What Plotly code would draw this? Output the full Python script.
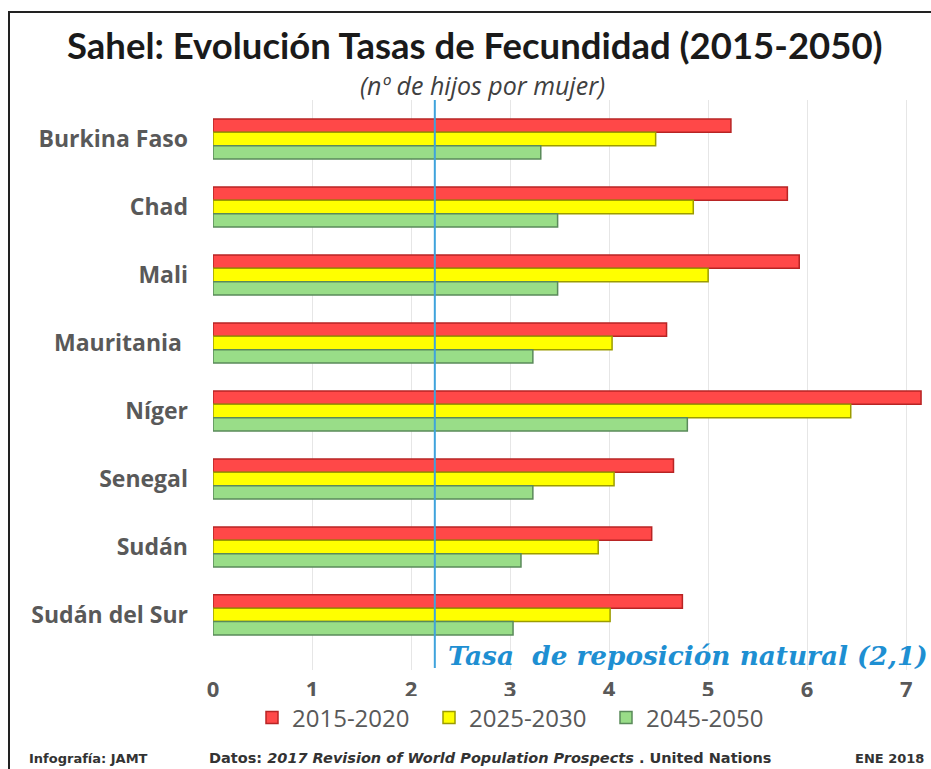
import plotly.graph_objects as go

countries = ["Burkina Faso", "Chad", "Mali", "Mauritania ", "Níger", "Senegal", "Sudán", "Sudán del Sur"]
tfr_2015_2020 = [5.23, 5.80, 5.92, 4.58, 7.15, 4.65, 4.43, 4.74]
tfr_2025_2030 = [4.47, 4.85, 5.00, 4.03, 6.44, 4.05, 3.89, 4.01]
tfr_2045_2050 = [3.31, 3.48, 3.48, 3.23, 4.79, 3.23, 3.11, 3.03]
series_names = ["2015-2020", "2025-2030", "2045-2050"]
x_ticks = [0, 1, 2, 3, 4, 5, 6, 7]
replacement_line_x = 2.24

fills = ["#ff4848", "#ffff00", "#99dd88"]
edges = ["#b82424", "#9c9c00", "#5a8a5a"]

W, H = 931, 769
L, R, T, B = 213, 5, 100, 99  # plot area: x 213..926, y 100..670
pw, ph = W - L - R, H - T - B

def px(x):
    return (x - L) / pw

def py(y):
    return (H - B - y) / ph

fig = go.Figure()
for name, vals, fc, ec in zip(series_names, [tfr_2015_2020, tfr_2025_2030, tfr_2045_2050], fills, edges):
    fig.add_trace(go.Bar(
        y=countries, x=vals, orientation="h", name=name,
        marker=dict(color=fc, line=dict(color=ec, width=1.5)),
    ))

fig.update_layout(
    width=W, height=H,
    margin=dict(l=L, r=R, t=T, b=B),
    paper_bgcolor="white", plot_bgcolor="white",
    barmode="group", bargap=0.41, bargroupgap=0.0,
    font=dict(family="Open Sans", color="#595959"),
    showlegend=True,
    legend=dict(orientation="h", x=px(252), y=py(718), xanchor="left", yanchor="middle",
                font=dict(size=24, family="Open Sans", color="#595959"), traceorder="normal",
                itemwidth=30, entrywidth=132, entrywidthmode="pixels"),
    xaxis=dict(range=[0, 7.2], tickvals=x_ticks, showgrid=True, gridcolor="#e6e6e6",
               gridwidth=1, zeroline=False, showline=False,
               tickfont=dict(size=22, family="Open Sans", color="#595959", weight="bold"),
               ticklabelstandoff=4),
    yaxis=dict(categoryorder="array", categoryarray=countries, range=[7.81, -0.574],
               showgrid=False, zeroline=False, showline=False,
               tickfont=dict(size=23, family="Open Sans", color="#595959", weight="bold"),
               ticklabelstandoff=24),
)

# replacement rate line
fig.add_shape(type="line", xref="x", yref="paper", x0=replacement_line_x, x1=replacement_line_x,
              y0=py(668), y1=py(100), line=dict(color="#3fa3dc", width=2))

# outer frame
fig.add_shape(type="rect", xref="paper", yref="paper", x0=px(9), x1=px(945), y0=py(790), y1=py(12),
              line=dict(color="#222222", width=2))

fig.add_annotation(xref="paper", yref="paper", x=px(475), y=py(45), xanchor="center", yanchor="middle",
                   showarrow=False, text="<b>Sahel: Evolución Tasas de Fecundidad (2015-2050)</b>",
                   font=dict(size=36.5, family="Lato", color="#1a1a1a"))
fig.add_annotation(xref="paper", yref="paper", x=px(482), y=py(85), xanchor="center", yanchor="middle",
                   showarrow=False, text="<i>(nº de hijos por mujer)</i>",
                   font=dict(size=25, family="Open Sans", color="#404040"))
fig.add_annotation(xref="paper", yref="paper", x=px(446), y=py(655), xanchor="left", yanchor="middle",
                   showarrow=False, text="<b><i>Tasa  de reposición natural (2,1)</i></b>",
                   font=dict(size=26.3, family="DejaVu Serif", color="#1e8fd2"))
fig.add_annotation(xref="paper", yref="paper", x=px(27), y=py(758), xanchor="left", yanchor="middle",
                   showarrow=False, text="<b>Infografía: JAMT</b>",
                   font=dict(size=13, family="DejaVu Sans", color="#333333"))
fig.add_annotation(xref="paper", yref="paper", x=px(207), y=py(758), xanchor="left", yanchor="middle",
                   showarrow=False,
                   text="<b>Datos: <i>2017 Revision of World Population Prospects</i> . United Nations</b>",
                   font=dict(size=14.5, family="DejaVu Sans", color="#333333"))
fig.add_annotation(xref="paper", yref="paper", x=px(926), y=py(758), xanchor="right", yanchor="middle",
                   showarrow=False, text="<b>ENE 2018</b>",
                   font=dict(size=13, family="DejaVu Sans", color="#333333"))

fig.write_html("out.html", config={"displayModeBar": False},
               post_script="document.body.style.margin='0px';document.body.style.overflow='hidden';")
